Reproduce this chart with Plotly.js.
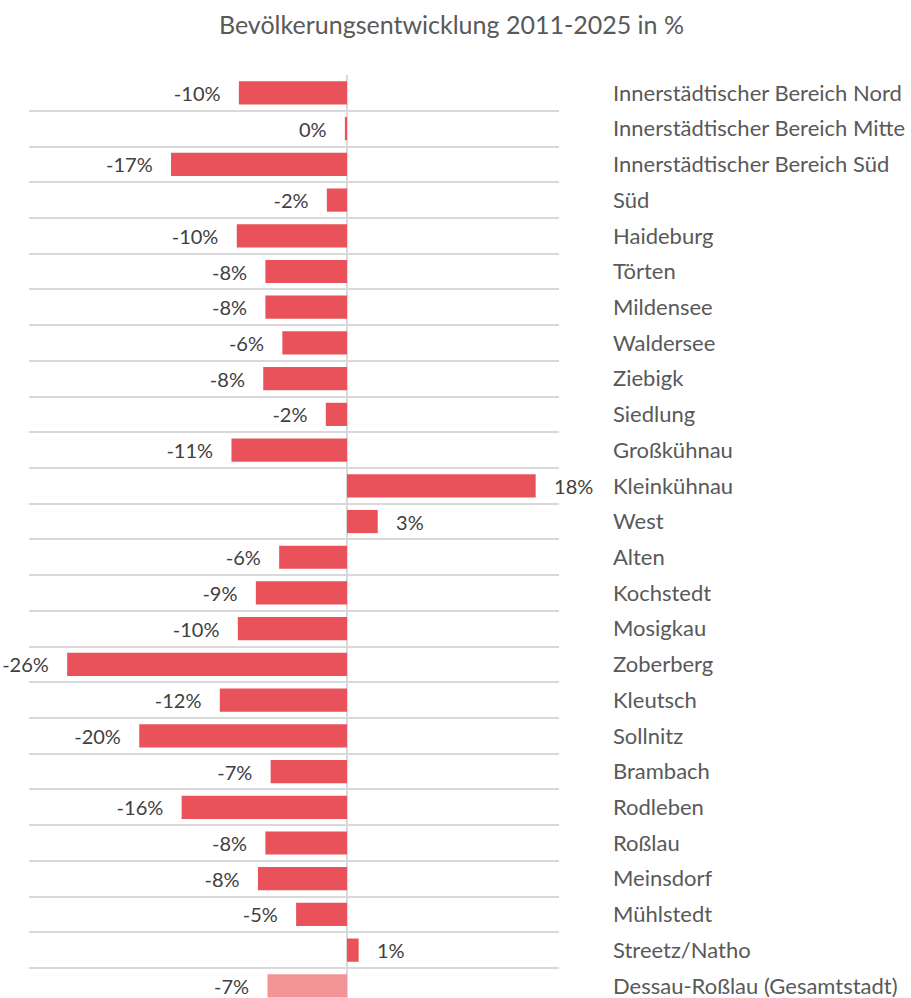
<!DOCTYPE html>
<html>
<head>
<meta charset="utf-8">
<script src="https://cdn.plot.ly/plotly-3.0.1.min.js"></script>
<style>html,body{margin:0;padding:0;background:#fff;}</style>
</head>
<body>
<div id="chart" style="width:911px;height:998px;"></div>
<script>
const categories = [
  "Innerstädtischer Bereich Nord",
  "Innerstädtischer Bereich Mitte",
  "Innerstädtischer Bereich Süd",
  "Süd",
  "Haideburg",
  "Törten",
  "Mildensee",
  "Waldersee",
  "Ziebigk",
  "Siedlung",
  "Großkühnau",
  "Kleinkühnau",
  "West",
  "Alten",
  "Kochstedt",
  "Mosigkau",
  "Zoberberg",
  "Kleutsch",
  "Sollnitz",
  "Brambach",
  "Rodleben",
  "Roßlau",
  "Meinsdorf",
  "Mühlstedt",
  "Streetz/Natho",
  "Dessau-Roßlau (Gesamtstadt)"
];
const changePct = [
  -10.2, -0.2, -16.6, -1.9, -10.4, -7.7, -7.7, -6.1, -7.9, -2.0,
  -10.9, 17.8, 2.9, -6.4, -8.6, -10.3, -26.4, -12.0, -19.6, -7.2,
  -15.6, -7.7, -8.4, -4.8, 1.1, -7.5
];
const totalCategory = "Dessau-Roßlau (Gesamtstadt)";

const RED = "#E9525A";
const LIGHT = "#F29496";
const pad = "\u00a0\u00a0\u00a0";
const labels = changePct.map(v => {
  const s = String(Math.round(v) === 0 ? 0 : Math.round(v)) + "%";
  return v < 0 ? s + pad : pad + s;
});
const colors = categories.map(c => c === totalCategory ? LIGHT : RED);

const trace = {
  type: "bar",
  orientation: "h",
  y: categories,
  x: changePct,
  text: labels,
  textposition: "outside",
  constraintext: "none",
  cliponaxis: false,
  textfont: {family: "Lato, 'Open Sans', sans-serif", size: 20, color: "#404040"},
  marker: {color: colors, line: {width: 0}},
  hoverinfo: "skip"
};

const layout = {
  width: 911,
  height: 998,
  margin: {l: 29, r: 352, t: 75, b: 0, pad: 0},
  paper_bgcolor: "#fff",
  plot_bgcolor: "#fff",
  bargap: 0.35,
  showlegend: false,
  title: {
    text: "Bevölkerungsentwicklung 2011-2025 in %",
    font: {family: "Lato, 'Open Sans', sans-serif", size: 25, color: "#595959"},
    x: 0.4956, xanchor: "center", xref: "container",
    y: 0.975, yanchor: "middle", yref: "container"
  },
  xaxis: {
    range: [-30, 20],
    showgrid: false,
    showticklabels: false,
    ticks: "",
    zeroline: true,
    zerolinecolor: "#D9D9D9",
    zerolinewidth: 2,
    fixedrange: true
  },
  yaxis: {
    type: "category",
    range: [25.34, -0.502],
    side: "right",
    tickson: "boundaries",
    ticks: "",
    showgrid: true,
    gridcolor: "#D9D9D9",
    gridwidth: 2,
    ticklabelstandoff: 53,
    tickfont: {family: "Lato, 'Open Sans', sans-serif", size: 22, color: "#595959"},
    fixedrange: true
  }
};

Plotly.newPlot("chart", [trace], layout, {displayModeBar: false, staticPlot: true});
</script>
</body>
</html>
